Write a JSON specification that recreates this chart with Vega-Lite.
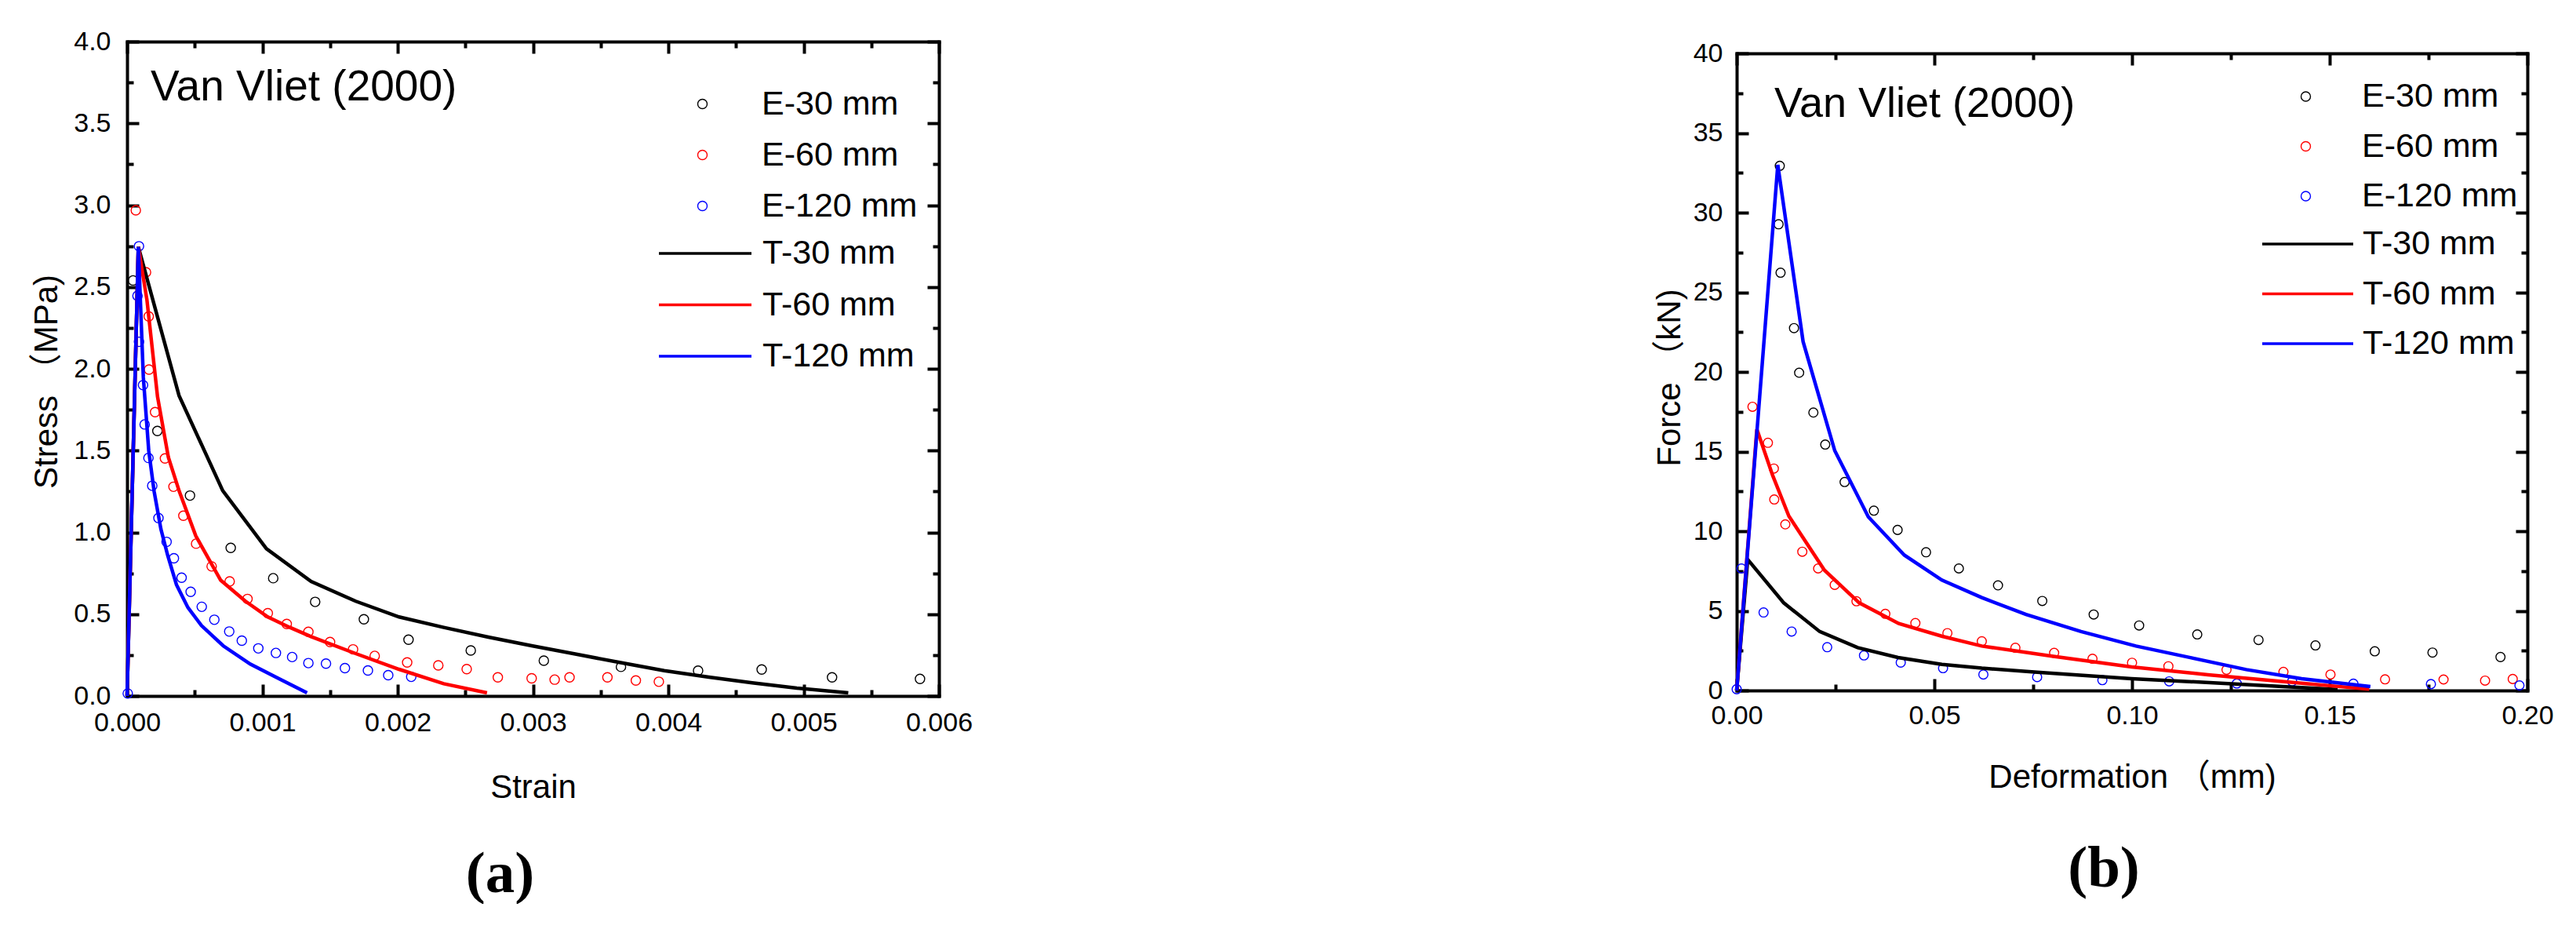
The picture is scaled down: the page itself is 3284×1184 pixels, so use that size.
{
  "$schema": "https://vega.github.io/schema/vega-lite/v6.json",
  "background": "white",
  "padding": {"left": 38, "top": 36, "right": 0, "bottom": 0},
  "spacing": 867,
  "datasets": {
    "a_exp": [
      {"series": "E-30 mm", "strain": 0.000044, "stress": 2.54},
      {"series": "E-30 mm", "strain": 0.000224, "stress": 1.62},
      {"series": "E-30 mm", "strain": 0.000465, "stress": 1.225},
      {"series": "E-30 mm", "strain": 0.000766, "stress": 0.905},
      {"series": "E-30 mm", "strain": 0.00108, "stress": 0.72},
      {"series": "E-30 mm", "strain": 0.00139, "stress": 0.575},
      {"series": "E-30 mm", "strain": 0.00175, "stress": 0.469},
      {"series": "E-30 mm", "strain": 0.00208, "stress": 0.344},
      {"series": "E-30 mm", "strain": 0.00254, "stress": 0.278},
      {"series": "E-30 mm", "strain": 0.00308, "stress": 0.216},
      {"series": "E-30 mm", "strain": 0.00365, "stress": 0.178},
      {"series": "E-30 mm", "strain": 0.00422, "stress": 0.155},
      {"series": "E-30 mm", "strain": 0.00469, "stress": 0.162},
      {"series": "E-30 mm", "strain": 0.00521, "stress": 0.114},
      {"series": "E-30 mm", "strain": 0.00586, "stress": 0.104},
      {"series": "E-60 mm", "strain": 0.0000645, "stress": 2.969},
      {"series": "E-60 mm", "strain": 0.00014, "stress": 2.59},
      {"series": "E-60 mm", "strain": 0.00016, "stress": 2.32},
      {"series": "E-60 mm", "strain": 0.000162, "stress": 1.995},
      {"series": "E-60 mm", "strain": 0.000207, "stress": 1.735},
      {"series": "E-60 mm", "strain": 0.00028, "stress": 1.452},
      {"series": "E-60 mm", "strain": 0.000343, "stress": 1.279},
      {"series": "E-60 mm", "strain": 0.000416, "stress": 1.102},
      {"series": "E-60 mm", "strain": 0.00051, "stress": 0.931},
      {"series": "E-60 mm", "strain": 0.000625, "stress": 0.792},
      {"series": "E-60 mm", "strain": 0.000758, "stress": 0.7},
      {"series": "E-60 mm", "strain": 0.00089, "stress": 0.593},
      {"series": "E-60 mm", "strain": 0.00104, "stress": 0.506},
      {"series": "E-60 mm", "strain": 0.00118, "stress": 0.44},
      {"series": "E-60 mm", "strain": 0.00134, "stress": 0.392},
      {"series": "E-60 mm", "strain": 0.0015, "stress": 0.33},
      {"series": "E-60 mm", "strain": 0.00167, "stress": 0.285},
      {"series": "E-60 mm", "strain": 0.00183, "stress": 0.245},
      {"series": "E-60 mm", "strain": 0.00207, "stress": 0.205},
      {"series": "E-60 mm", "strain": 0.0023, "stress": 0.187},
      {"series": "E-60 mm", "strain": 0.00251, "stress": 0.164},
      {"series": "E-60 mm", "strain": 0.00274, "stress": 0.114},
      {"series": "E-60 mm", "strain": 0.00299, "stress": 0.108},
      {"series": "E-60 mm", "strain": 0.00316, "stress": 0.1},
      {"series": "E-60 mm", "strain": 0.00327, "stress": 0.114},
      {"series": "E-60 mm", "strain": 0.00355, "stress": 0.114},
      {"series": "E-60 mm", "strain": 0.00376, "stress": 0.095},
      {"series": "E-60 mm", "strain": 0.00393, "stress": 0.087},
      {"series": "E-120 mm", "strain": 0.000005, "stress": 0.015},
      {"series": "E-120 mm", "strain": 0.000088, "stress": 2.749},
      {"series": "E-120 mm", "strain": 0.000077, "stress": 2.446},
      {"series": "E-120 mm", "strain": 0.000088, "stress": 2.165},
      {"series": "E-120 mm", "strain": 0.000118, "stress": 1.9},
      {"series": "E-120 mm", "strain": 0.00013, "stress": 1.66},
      {"series": "E-120 mm", "strain": 0.000158, "stress": 1.455},
      {"series": "E-120 mm", "strain": 0.000186, "stress": 1.285},
      {"series": "E-120 mm", "strain": 0.000232, "stress": 1.088},
      {"series": "E-120 mm", "strain": 0.000292, "stress": 0.942},
      {"series": "E-120 mm", "strain": 0.000346, "stress": 0.842},
      {"series": "E-120 mm", "strain": 0.000403, "stress": 0.723},
      {"series": "E-120 mm", "strain": 0.00047, "stress": 0.637},
      {"series": "E-120 mm", "strain": 0.000552, "stress": 0.545},
      {"series": "E-120 mm", "strain": 0.000645, "stress": 0.466},
      {"series": "E-120 mm", "strain": 0.000755, "stress": 0.394},
      {"series": "E-120 mm", "strain": 0.000848, "stress": 0.338},
      {"series": "E-120 mm", "strain": 0.00097, "stress": 0.291},
      {"series": "E-120 mm", "strain": 0.0011, "stress": 0.263},
      {"series": "E-120 mm", "strain": 0.00122, "stress": 0.238},
      {"series": "E-120 mm", "strain": 0.00134, "stress": 0.201},
      {"series": "E-120 mm", "strain": 0.00147, "stress": 0.198},
      {"series": "E-120 mm", "strain": 0.00161, "stress": 0.17},
      {"series": "E-120 mm", "strain": 0.00178, "stress": 0.156},
      {"series": "E-120 mm", "strain": 0.00193, "stress": 0.127},
      {"series": "E-120 mm", "strain": 0.0021, "stress": 0.117}
    ],
    "a_model": [
      {"series": "T-30 mm", "strain": 0, "stress": 0},
      {"series": "T-30 mm", "strain": 0.0000832, "stress": 2.745},
      {"series": "T-30 mm", "strain": 0.000384, "stress": 1.836},
      {"series": "T-30 mm", "strain": 0.000707, "stress": 1.255},
      {"series": "T-30 mm", "strain": 0.00103, "stress": 0.9},
      {"series": "T-30 mm", "strain": 0.00136, "stress": 0.7},
      {"series": "T-30 mm", "strain": 0.00169, "stress": 0.579},
      {"series": "T-30 mm", "strain": 0.00201, "stress": 0.483},
      {"series": "T-30 mm", "strain": 0.00234, "stress": 0.419},
      {"series": "T-30 mm", "strain": 0.00267, "stress": 0.36},
      {"series": "T-30 mm", "strain": 0.00299, "stress": 0.307},
      {"series": "T-30 mm", "strain": 0.00332, "stress": 0.255},
      {"series": "T-30 mm", "strain": 0.00364, "stress": 0.205},
      {"series": "T-30 mm", "strain": 0.00397, "stress": 0.155},
      {"series": "T-30 mm", "strain": 0.0043, "stress": 0.115},
      {"series": "T-30 mm", "strain": 0.00462, "stress": 0.08},
      {"series": "T-30 mm", "strain": 0.00495, "stress": 0.048},
      {"series": "T-30 mm", "strain": 0.00533, "stress": 0.019},
      {"series": "T-60 mm", "strain": 0, "stress": 0},
      {"series": "T-60 mm", "strain": 0.0000832, "stress": 2.745},
      {"series": "T-60 mm", "strain": 0.000147, "stress": 2.42},
      {"series": "T-60 mm", "strain": 0.000225, "stress": 1.83},
      {"series": "T-60 mm", "strain": 0.000305, "stress": 1.46},
      {"series": "T-60 mm", "strain": 0.000386, "stress": 1.25},
      {"series": "T-60 mm", "strain": 0.000508, "stress": 0.978},
      {"series": "T-60 mm", "strain": 0.000692, "stress": 0.707},
      {"series": "T-60 mm", "strain": 0.000875, "stress": 0.579},
      {"series": "T-60 mm", "strain": 0.00104, "stress": 0.483},
      {"series": "T-60 mm", "strain": 0.0012, "stress": 0.42},
      {"series": "T-60 mm", "strain": 0.00136, "stress": 0.363},
      {"series": "T-60 mm", "strain": 0.00169, "stress": 0.259},
      {"series": "T-60 mm", "strain": 0.00201, "stress": 0.163},
      {"series": "T-60 mm", "strain": 0.00234, "stress": 0.075},
      {"series": "T-60 mm", "strain": 0.00266, "stress": 0.019},
      {"series": "T-120 mm", "strain": 0, "stress": 0},
      {"series": "T-120 mm", "strain": 0.0000832, "stress": 2.745},
      {"series": "T-120 mm", "strain": 0.00012, "stress": 1.95},
      {"series": "T-120 mm", "strain": 0.00016, "stress": 1.5},
      {"series": "T-120 mm", "strain": 0.0002, "stress": 1.25},
      {"series": "T-120 mm", "strain": 0.00025, "stress": 1.02},
      {"series": "T-120 mm", "strain": 0.0003, "stress": 0.86},
      {"series": "T-120 mm", "strain": 0.000365, "stress": 0.68},
      {"series": "T-120 mm", "strain": 0.00045, "stress": 0.54},
      {"series": "T-120 mm", "strain": 0.00055, "stress": 0.43},
      {"series": "T-120 mm", "strain": 0.00071, "stress": 0.307},
      {"series": "T-120 mm", "strain": 0.00091, "stress": 0.195},
      {"series": "T-120 mm", "strain": 0.00112, "stress": 0.107},
      {"series": "T-120 mm", "strain": 0.00133, "stress": 0.019}
    ],
    "b_exp": [
      {"series": "E-30 mm", "deformation": 0.0109, "force": 32.94},
      {"series": "E-30 mm", "deformation": 0.0106, "force": 29.27},
      {"series": "E-30 mm", "deformation": 0.0111, "force": 26.23},
      {"series": "E-30 mm", "deformation": 0.0145, "force": 22.75},
      {"series": "E-30 mm", "deformation": 0.0158, "force": 19.95},
      {"series": "E-30 mm", "deformation": 0.0194, "force": 17.45},
      {"series": "E-30 mm", "deformation": 0.0224, "force": 15.44},
      {"series": "E-30 mm", "deformation": 0.0273, "force": 13.09},
      {"series": "E-30 mm", "deformation": 0.0347, "force": 11.29},
      {"series": "E-30 mm", "deformation": 0.0407, "force": 10.08},
      {"series": "E-30 mm", "deformation": 0.0479, "force": 8.68},
      {"series": "E-30 mm", "deformation": 0.0562, "force": 7.66},
      {"series": "E-30 mm", "deformation": 0.0661, "force": 6.6},
      {"series": "E-30 mm", "deformation": 0.0773, "force": 5.62},
      {"series": "E-30 mm", "deformation": 0.0903, "force": 4.77},
      {"series": "E-30 mm", "deformation": 0.1018, "force": 4.08},
      {"series": "E-30 mm", "deformation": 0.1165, "force": 3.52},
      {"series": "E-30 mm", "deformation": 0.132, "force": 3.17},
      {"series": "E-30 mm", "deformation": 0.1464, "force": 2.83},
      {"series": "E-30 mm", "deformation": 0.1614, "force": 2.46},
      {"series": "E-30 mm", "deformation": 0.176, "force": 2.38},
      {"series": "E-30 mm", "deformation": 0.1932, "force": 2.1},
      {"series": "E-60 mm", "deformation": 0.004, "force": 17.81},
      {"series": "E-60 mm", "deformation": 0.0079, "force": 15.55},
      {"series": "E-60 mm", "deformation": 0.0094, "force": 13.93},
      {"series": "E-60 mm", "deformation": 0.0095, "force": 11.99},
      {"series": "E-60 mm", "deformation": 0.0123, "force": 10.43},
      {"series": "E-60 mm", "deformation": 0.0166, "force": 8.71},
      {"series": "E-60 mm", "deformation": 0.0206, "force": 7.66},
      {"series": "E-60 mm", "deformation": 0.0248, "force": 6.63},
      {"series": "E-60 mm", "deformation": 0.0303, "force": 5.6},
      {"series": "E-60 mm", "deformation": 0.0376, "force": 4.81},
      {"series": "E-60 mm", "deformation": 0.0452, "force": 4.23},
      {"series": "E-60 mm", "deformation": 0.0533, "force": 3.6},
      {"series": "E-60 mm", "deformation": 0.062, "force": 3.09},
      {"series": "E-60 mm", "deformation": 0.0705, "force": 2.68},
      {"series": "E-60 mm", "deformation": 0.0803, "force": 2.36},
      {"series": "E-60 mm", "deformation": 0.09, "force": 1.99},
      {"series": "E-60 mm", "deformation": 0.1, "force": 1.74},
      {"series": "E-60 mm", "deformation": 0.1092, "force": 1.52},
      {"series": "E-60 mm", "deformation": 0.1239, "force": 1.3},
      {"series": "E-60 mm", "deformation": 0.1383, "force": 1.17},
      {"series": "E-60 mm", "deformation": 0.1502, "force": 1.0},
      {"series": "E-60 mm", "deformation": 0.164, "force": 0.7},
      {"series": "E-60 mm", "deformation": 0.1788, "force": 0.69},
      {"series": "E-60 mm", "deformation": 0.1893, "force": 0.62},
      {"series": "E-60 mm", "deformation": 0.1963, "force": 0.72},
      {"series": "E-120 mm", "deformation": 0.0, "force": 0.08},
      {"series": "E-120 mm", "deformation": 0.0012, "force": 7.66},
      {"series": "E-120 mm", "deformation": 0.0068, "force": 4.9},
      {"series": "E-120 mm", "deformation": 0.0139, "force": 3.7},
      {"series": "E-120 mm", "deformation": 0.0229, "force": 2.72},
      {"series": "E-120 mm", "deformation": 0.0322, "force": 2.2},
      {"series": "E-120 mm", "deformation": 0.0415, "force": 1.75},
      {"series": "E-120 mm", "deformation": 0.0522, "force": 1.4},
      {"series": "E-120 mm", "deformation": 0.0624, "force": 1.0},
      {"series": "E-120 mm", "deformation": 0.076, "force": 0.84},
      {"series": "E-120 mm", "deformation": 0.0925, "force": 0.65},
      {"series": "E-120 mm", "deformation": 0.1094, "force": 0.57},
      {"series": "E-120 mm", "deformation": 0.1265, "force": 0.44},
      {"series": "E-120 mm", "deformation": 0.1405, "force": 0.57},
      {"series": "E-120 mm", "deformation": 0.156, "force": 0.43},
      {"series": "E-120 mm", "deformation": 0.1756, "force": 0.4},
      {"series": "E-120 mm", "deformation": 0.198, "force": 0.32}
    ],
    "b_model": [
      {"series": "T-30 mm", "deformation": 0, "force": 0},
      {"series": "T-30 mm", "deformation": 0.0028, "force": 8.22},
      {"series": "T-30 mm", "deformation": 0.0119, "force": 5.5},
      {"series": "T-30 mm", "deformation": 0.021, "force": 3.7},
      {"series": "T-30 mm", "deformation": 0.0306, "force": 2.69},
      {"series": "T-30 mm", "deformation": 0.0408, "force": 2.07},
      {"series": "T-30 mm", "deformation": 0.0519, "force": 1.64},
      {"series": "T-30 mm", "deformation": 0.062, "force": 1.4},
      {"series": "T-30 mm", "deformation": 0.076, "force": 1.15},
      {"series": "T-30 mm", "deformation": 0.0999, "force": 0.74},
      {"series": "T-30 mm", "deformation": 0.1261, "force": 0.41},
      {"series": "T-30 mm", "deformation": 0.152, "force": 0.06},
      {"series": "T-60 mm", "deformation": 0, "force": 0},
      {"series": "T-60 mm", "deformation": 0.0051, "force": 16.4},
      {"series": "T-60 mm", "deformation": 0.0091, "force": 13.5},
      {"series": "T-60 mm", "deformation": 0.0132, "force": 10.95},
      {"series": "T-60 mm", "deformation": 0.0222, "force": 7.55},
      {"series": "T-60 mm", "deformation": 0.031, "force": 5.5},
      {"series": "T-60 mm", "deformation": 0.041, "force": 4.2},
      {"series": "T-60 mm", "deformation": 0.052, "force": 3.4},
      {"series": "T-60 mm", "deformation": 0.062, "force": 2.79},
      {"series": "T-60 mm", "deformation": 0.0801, "force": 2.14},
      {"series": "T-60 mm", "deformation": 0.0999, "force": 1.48},
      {"series": "T-60 mm", "deformation": 0.1192, "force": 0.99},
      {"series": "T-60 mm", "deformation": 0.1373, "force": 0.58},
      {"series": "T-60 mm", "deformation": 0.16, "force": 0.08},
      {"series": "T-120 mm", "deformation": 0, "force": 0},
      {"series": "T-120 mm", "deformation": 0.0104, "force": 33.0},
      {"series": "T-120 mm", "deformation": 0.0168, "force": 21.9},
      {"series": "T-120 mm", "deformation": 0.0248, "force": 15.06},
      {"series": "T-120 mm", "deformation": 0.0333, "force": 10.9},
      {"series": "T-120 mm", "deformation": 0.0424, "force": 8.5},
      {"series": "T-120 mm", "deformation": 0.0519, "force": 6.93},
      {"series": "T-120 mm", "deformation": 0.062, "force": 5.83},
      {"series": "T-120 mm", "deformation": 0.0732, "force": 4.77},
      {"series": "T-120 mm", "deformation": 0.0871, "force": 3.7},
      {"series": "T-120 mm", "deformation": 0.101, "force": 2.79},
      {"series": "T-120 mm", "deformation": 0.115, "force": 2.05},
      {"series": "T-120 mm", "deformation": 0.1289, "force": 1.31},
      {"series": "T-120 mm", "deformation": 0.1429, "force": 0.74},
      {"series": "T-120 mm", "deformation": 0.1603, "force": 0.25}
    ]
  },
  "config": {
    "view": {"stroke": null},
    "axis": {
      "domainColor": "#000000", "domainWidth": 4, "domainCap": "square",
      "tickColor": "#000000", "tickWidth": 4, "grid": false,
      "labelFont": "Liberation Sans", "labelFontSize": 34, "labelColor": "#000000",
      "labelFlush": false, "labelOverlap": false,
      "titleFont": "Liberation Sans, Noto Sans CJK SC", "titleFontSize": 42,
      "titleFontWeight": "normal", "titleColor": "#000000"
    },
    "legend": {"labelFont": "Liberation Sans", "labelFontSize": 43, "labelColor": "#000000", "labelLimit": 0, "padding": 0}
  },
  "resolve": {"scale": {"color": "independent", "stroke": "independent"}, "legend": {"color": "independent", "stroke": "independent"}},
  "hconcat": [
    {
      "width": 1035, "height": 834,
      "title": {"text": "(a)", "orient": "bottom", "anchor": "middle", "frame": "group", "baseline": "top", "font": "Liberation Serif", "fontSize": 75, "fontWeight": "bold", "color": "#000000", "dx": -42, "offset": 54},
      "resolve": {"axis": {"x": "independent", "y": "independent"}},
      "layer": [
        {
          "data": {"name": "a_exp"},
          "mark": {"type": "point", "filled": false, "size": 144, "strokeWidth": 1.4, "opacity": 1},
          "encoding": {
            "x": {"field": "strain", "type": "quantitative", "scale": {"domain": [0, 0.006], "nice": false, "zero": false},
              "axis": {"orient": "bottom", "values": [0, 0.0005, 0.001, 0.0015, 0.002, 0.0025, 0.003, 0.0035, 0.004, 0.0045, 0.005, 0.0055, 0.006],
                "tickSize": {"condition": {"test": "abs(datum.value*1000-round(datum.value*1000))<1e-6", "value": -15}, "value": -8},
                "labelExpr": "abs(datum.value*1000-round(datum.value*1000))<1e-6 ? format(datum.value,'.3f') : ''",
                "labelPadding": 32, "title": "Strain", "titlePadding": 38}},
            "y": {"field": "stress", "type": "quantitative", "scale": {"domain": [0, 4], "nice": false, "zero": false},
              "axis": {"orient": "left", "values": [0, 0.25, 0.5, 0.75, 1, 1.25, 1.5, 1.75, 2, 2.25, 2.5, 2.75, 3, 3.25, 3.5, 3.75, 4],
                "tickSize": {"condition": {"test": "abs(datum.value*2-round(datum.value*2))<1e-6", "value": -15}, "value": -8},
                "labelExpr": "abs(datum.value*2-round(datum.value*2))<1e-6 ? format(datum.value,'.1f') : ''",
                "labelPadding": 36, "title": "Stress （MPa)", "titlePadding": 12, "titleY": 433}},
            "stroke": {"field": "series", "type": "nominal",
              "scale": {"domain": ["E-30 mm", "E-60 mm", "E-120 mm"], "range": ["#000000", "#ff0000", "#0000ff"]},
              "legend": {"orient": "none", "legendX": 712, "legendY": 58, "title": null, "symbolType": "circle", "symbolSize": 144, "symbolStrokeWidth": 1.4, "symbolFillColor": "transparent", "labelOffset": 54, "rowPadding": 21}}
          }
        },
        {
          "data": {"name": "a_model"},
          "mark": {"type": "line", "strokeWidth": 4.5},
          "encoding": {
            "x": {"field": "strain", "type": "quantitative", "scale": {"domain": [0, 0.006], "nice": false, "zero": false},
              "axis": {"orient": "top", "values": [0, 0.0005, 0.001, 0.0015, 0.002, 0.0025, 0.003, 0.0035, 0.004, 0.0045, 0.005, 0.0055, 0.006],
                "tickSize": {"condition": {"test": "abs(datum.value*1000-round(datum.value*1000))<1e-6", "value": -15}, "value": -8},
                "labels": false, "title": null}},
            "y": {"field": "stress", "type": "quantitative", "scale": {"domain": [0, 4], "nice": false, "zero": false},
              "axis": {"orient": "right", "values": [0, 0.25, 0.5, 0.75, 1, 1.25, 1.5, 1.75, 2, 2.25, 2.5, 2.75, 3, 3.25, 3.5, 3.75, 4],
                "tickSize": {"condition": {"test": "abs(datum.value*2-round(datum.value*2))<1e-6", "value": -15}, "value": -8},
                "labels": false, "title": null}},
            "color": {"field": "series", "type": "nominal",
              "scale": {"domain": ["T-30 mm", "T-60 mm", "T-120 mm"], "range": ["#000000", "#ff0000", "#0000ff"]},
              "legend": {"orient": "none", "legendX": 715.5, "legendY": 248.5, "title": null, "symbolType": "M-3.0256,0H3.0256", "symbolSize": 1521, "symbolStrokeWidth": 3.5, "labelOffset": 51.5, "rowPadding": 21.5}}
          }
        },
        {
          "data": {"values": [{"note": "Van Vliet (2000)"}]},
          "mark": {"type": "text", "align": "left", "baseline": "alphabetic", "font": "Liberation Sans", "fontSize": 55, "color": "#000000"},
          "encoding": {
            "x": {"datum": 0.000174, "type": "quantitative", "axis": null},
            "y": {"datum": 3.64, "type": "quantitative", "axis": null},
            "text": {"field": "note"}
          }
        }
      ]
    },
    {
      "spacing": -8,
      "resolve": {"scale": {"color": "independent", "stroke": "independent"}, "legend": {"color": "independent", "stroke": "independent"}},
      "vconcat": [
        {
          "width": 1008, "height": 1,
          "data": {"values": [{"note": ""}]},
          "mark": {"type": "text"},
          "encoding": {"text": {"field": "note"}}
        },
        {
          "width": 1008, "height": 812,
          "title": {"text": "(b)", "orient": "bottom", "anchor": "middle", "frame": "group", "baseline": "top", "font": "Liberation Serif", "fontSize": 75, "fontWeight": "bold", "color": "#000000", "dx": -36, "offset": 60},
          "resolve": {"axis": {"x": "independent", "y": "independent"}},
          "layer": [
            {
              "data": {"name": "b_exp"},
              "mark": {"type": "point", "filled": false, "size": 135, "strokeWidth": 1.4, "opacity": 1},
              "encoding": {
                "x": {"field": "deformation", "type": "quantitative", "scale": {"domain": [0, 0.2], "nice": false, "zero": false},
                  "axis": {"orient": "bottom", "values": [0, 0.025, 0.05, 0.075, 0.1, 0.125, 0.15, 0.175, 0.2],
                    "tickSize": {"condition": {"test": "abs(datum.value*20-round(datum.value*20))<1e-6", "value": -15}, "value": -8},
                    "labelExpr": "abs(datum.value*20-round(datum.value*20))<1e-6 ? format(datum.value,'.2f') : ''",
                    "labelPadding": 30.5, "title": "Deformation （mm)", "titlePadding": 33.5}},
                "y": {"field": "force", "type": "quantitative", "scale": {"domain": [0, 40], "nice": false, "zero": false},
                  "axis": {"orient": "left", "values": [0, 2.5, 5, 7.5, 10, 12.5, 15, 17.5, 20, 22.5, 25, 27.5, 30, 32.5, 35, 37.5, 40],
                    "tickSize": {"condition": {"test": "datum.value % 5 == 0", "value": -15}, "value": -8},
                    "labelExpr": "datum.value % 5 == 0 ? format(datum.value,'d') : ''",
                    "labelPadding": 33, "title": "Force （kN)", "titlePadding": 8, "titleY": 413}},
                "stroke": {"field": "series", "type": "nominal",
                  "scale": {"domain": ["E-30 mm", "E-60 mm", "E-120 mm"], "range": ["#000000", "#ff0000", "#0000ff"]},
                  "legend": {"orient": "none", "legendX": 704, "legendY": 33.5, "title": null, "symbolType": "circle", "symbolSize": 144, "symbolStrokeWidth": 1.4, "symbolFillColor": "transparent", "labelOffset": 50, "rowPadding": 19.5}}
              }
            },
            {
              "data": {"name": "b_model"},
              "mark": {"type": "line", "strokeWidth": 4.5},
              "encoding": {
                "x": {"field": "deformation", "type": "quantitative", "scale": {"domain": [0, 0.2], "nice": false, "zero": false},
                  "axis": {"orient": "top", "values": [0, 0.025, 0.05, 0.075, 0.1, 0.125, 0.15, 0.175, 0.2],
                    "tickSize": {"condition": {"test": "abs(datum.value*20-round(datum.value*20))<1e-6", "value": -15}, "value": -8},
                    "labels": false, "title": null}},
                "y": {"field": "force", "type": "quantitative", "scale": {"domain": [0, 40], "nice": false, "zero": false},
                  "axis": {"orient": "right", "values": [0, 2.5, 5, 7.5, 10, 12.5, 15, 17.5, 20, 22.5, 25, 27.5, 30, 32.5, 35, 37.5, 40],
                    "tickSize": {"condition": {"test": "datum.value % 5 == 0", "value": -15}, "value": -8},
                    "labels": false, "title": null}},
                "color": {"field": "series", "type": "nominal",
                  "scale": {"domain": ["T-30 mm", "T-60 mm", "T-120 mm"], "range": ["#000000", "#ff0000", "#0000ff"]},
                  "legend": {"orient": "none", "legendX": 706.5, "legendY": 221.5, "title": null, "symbolType": "M-2.974,0H2.974", "symbolSize": 1521, "symbolStrokeWidth": 3.5, "labelOffset": 48.5, "rowPadding": 19.5}}
              }
            },
            {
              "data": {"values": [{"note": "Van Vliet (2000)"}]},
              "mark": {"type": "text", "align": "left", "baseline": "alphabetic", "font": "Liberation Sans", "fontSize": 54, "color": "#000000"},
              "encoding": {
                "x": {"datum": 0.00952, "type": "quantitative", "axis": null},
                "y": {"datum": 36.0, "type": "quantitative", "axis": null},
                "text": {"field": "note"}
              }
            }
          ]
        }
      ]
    }
  ]
}
